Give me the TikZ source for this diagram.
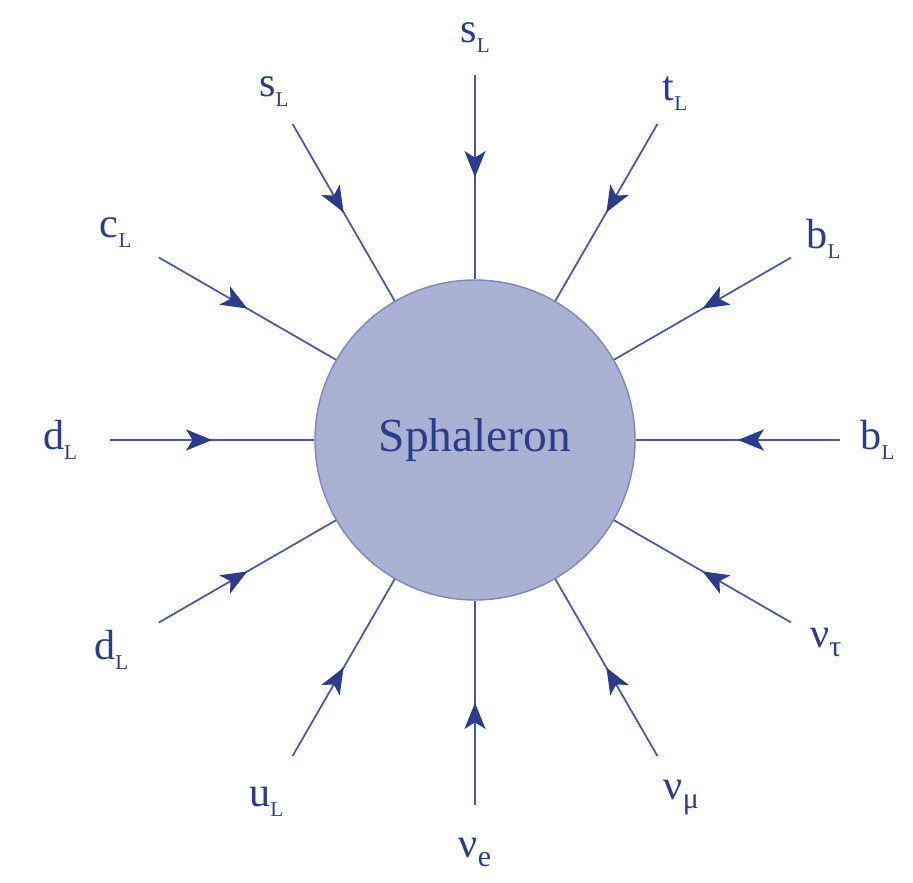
\documentclass[tikz,border=0pt]{standalone}
\usepackage{fontspec}
\setmainfont{Liberation Serif}
\usetikzlibrary{arrows.meta,decorations.markings}
\definecolor{navy}{HTML}{2B3D8A}
\definecolor{haze}{HTML}{AAB2D4}
\definecolor{rim}{HTML}{7D88BA}
\newcommand{\lsub}[1]{\raisebox{-0.5ex}{\fontsize{12}{12}\selectfont #1}}
\newcommand{\gsub}[1]{\raisebox{-0.45ex}{\fontsize{17}{17}\selectfont #1}}

\begin{document}
\begin{tikzpicture}[x=1cm,y=1cm,
    leg/.style={draw=navy!85,line width=1pt,postaction={decorate},
      decoration={markings,mark=at position 0.5 with {\arrow[navy]{Stealth[length=0.52cm,width=0.42cm,inset=0.13cm]}}}},
    lbl/.style={text=navy,font=\fontsize{24}{28}\selectfont,inner sep=0pt}]
    \useasboundingbox (-9.5,-8.86) rectangle (8.76,8.8);
    \node[circle,fill=haze,draw=rim,line width=0.8pt,minimum size=6.4cm,
      text=navy,font=\fontsize{27}{32}\selectfont] (sph) at (0,0) {Sphaleron};
    % outer ends of the legs
    \coordinate (b1) at (0:7.3);
    \coordinate (b2) at (30:7.3);
    \coordinate (t) at (60:7.3);
    \coordinate (s1) at (90:7.3);
    \coordinate (s2) at (120:7.3);
    \coordinate (c) at (150:7.3);
    \coordinate (d1) at (180:7.3);
    \coordinate (d2) at (210:7.3);
    \coordinate (u) at (240:7.3);
    \coordinate (ne) at (270:7.3);
    \coordinate (nm) at (300:7.3);
    \coordinate (nt) at (330:7.3);
    % labels
    \node[lbl] (lb1) at (0:8.05) {b\lsub{L}};
    \node[lbl] (lb2) at (30:8.05) {b\lsub{L}};
    \node[lbl] (lt) at (60:8.0) {t\lsub{L}};
    \node[lbl] (ls1) at (90:8.05) {s\lsub{L}};
    \node[lbl] (ls2) at (120:8.05) {s\lsub{L}};
    \node[lbl] (lc) at (150:8.3) {c\lsub{L}};
    \node[lbl] (ld1) at (180:8.3) {d\lsub{L}};
    \node[lbl] (ld2) at (210:8.4) {d\lsub{L}};
    \node[lbl] (lu) at (240:8.35) {u\lsub{L}};
    \node[lbl] (lne) at (270:8.25) {ν\gsub{e}};
    \node[lbl] (lnm) at (300:8.25) {ν\gsub{μ}};
    \node[lbl] (lnt) at (330:8.1) {ν\gsub{τ}};
    % legs
    \draw[leg] (b1) -- (sph);
    \draw[leg] (b2) -- (sph);
    \draw[leg] (t) -- (sph);
    \draw[leg] (s1) -- (sph);
    \draw[leg] (s2) -- (sph);
    \draw[leg] (c) -- (sph);
    \draw[leg] (d1) -- (sph);
    \draw[leg] (d2) -- (sph);
    \draw[leg] (u) -- (sph);
    \draw[leg] (ne) -- (sph);
    \draw[leg] (nm) -- (sph);
    \draw[leg] (nt) -- (sph);
  \end{tikzpicture}
\end{document}
